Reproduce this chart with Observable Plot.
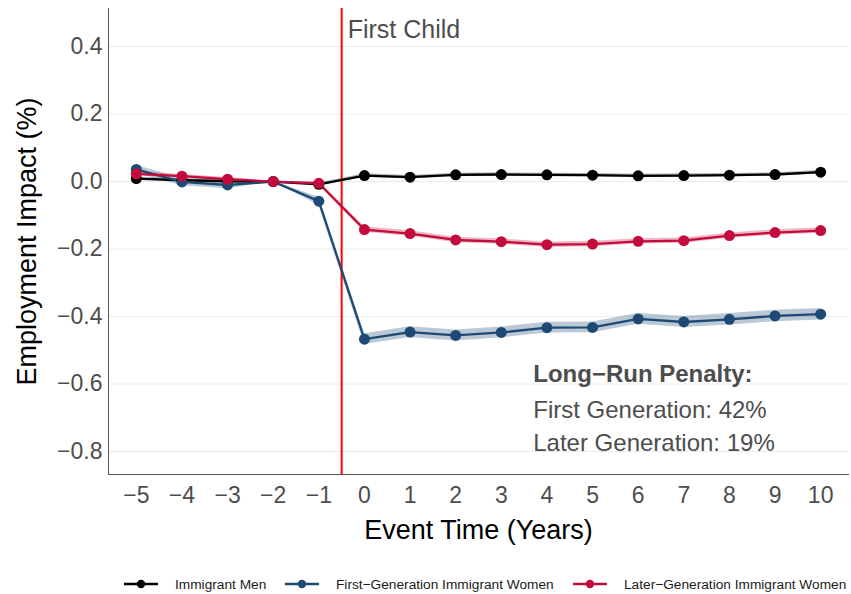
<!DOCTYPE html>
<html>
<head>
<meta charset="utf-8">
<script src="https://cdn.jsdelivr.net/npm/d3@7"></script>
<script src="https://cdn.jsdelivr.net/npm/@observablehq/plot@0.6"></script>
<style>
  body { margin: 0; background: #fff; font-family: "Liberation Sans", Arial, sans-serif; }
  #chart { width: 851px; height: 565px; }
  .legend { position: relative; height: 29px; width: 851px; font-size: 13.7px; color: #1a1a1a; }
  .legend .item { position: absolute; top: 0; display: flex; align-items: center; height: 38px; }
  .legend svg { margin-right: 15px; }
</style>
</head>
<body>
<div id="chart"></div>
<div class="legend" id="legend"></div>
<script>
const eventTime = [-5, -4, -3, -2, -1, 0, 1, 2, 3, 4, 5, 6, 7, 8, 9, 10];
const seriesNames = ["Immigrant Men", "First\u2212Generation Immigrant Women", "Later\u2212Generation Immigrant Women"];
const menValues = [0.009, 0.004, 0.001, 0, -0.008, 0.018, 0.013, 0.020, 0.021, 0.020, 0.019, 0.017, 0.018, 0.019, 0.021, 0.028];
const firstGenValues = [0.036, -0.001, -0.010, 0, -0.058, -0.467, -0.446, -0.456, -0.447, -0.433, -0.432, -0.407, -0.416, -0.408, -0.398, -0.393];
const laterGenValues = [0.023, 0.016, 0.007, 0, -0.005, -0.142, -0.154, -0.173, -0.178, -0.187, -0.185, -0.177, -0.175, -0.160, -0.151, -0.145];
const menCI = [0.004, 0.004, 0.004, 0, 0.004, 0.005, 0.005, 0.005, 0.005, 0.005, 0.005, 0.005, 0.005, 0.005, 0.005, 0.005];
const firstGenCI = [0.012, 0.011, 0.011, 0, 0.012, 0.016, 0.016, 0.016, 0.016, 0.016, 0.016, 0.016, 0.016, 0.017, 0.017, 0.017];
const laterGenCI = [0.006, 0.005, 0.005, 0, 0.005, 0.008, 0.008, 0.008, 0.008, 0.008, 0.008, 0.008, 0.008, 0.008, 0.008, 0.008];
const seriesColors = ["#000000", "#1d4a74", "#c40c3c"];
const yTicks = [-0.8, -0.6, -0.4, -0.2, 0.0, 0.2, 0.4];
const xTicks = eventTime;
const eventLine = [-0.5];
const childLabel = ["First Child"];
const annotationTitle = ["Long\u2212Run Penalty:"];
const annotationTitleY = -0.572;
const annotationLines = ["First Generation: 42%", "Later Generation: 19%"];
const annotationY = [-0.679, -0.776];
const annotationX = 3.7;

const allValues = [menValues, firstGenValues, laterGenValues];
const allCI = [menCI, firstGenCI, laterGenCI];
const rows = [];
seriesNames.forEach((s, i) => {
  eventTime.forEach((t, j) => {
    rows.push({series: s, t, v: allValues[i][j], lo: allValues[i][j] - allCI[i][j], hi: allValues[i][j] + allCI[i][j]});
  });
});
const colorScale = {domain: seriesNames, range: seriesColors};
const annRows = annotationLines.map((txt, i) => ({txt, y: annotationY[i]}));

const plot = Plot.plot({
  width: 851,
  height: 565,
  marginLeft: 108,
  marginRight: 3,
  marginTop: 8,
  marginBottom: 91,
  style: {fontFamily: "Liberation Sans, Arial, sans-serif", background: "#fff", overflow: "visible"},
  x: {domain: [-5.61, 10.61]},
  y: {domain: [-0.868, 0.513]},
  color: colorScale,
  marks: [
    Plot.gridY(yTicks, {stroke: "#ebebeb", strokeOpacity: 1, strokeWidth: 1}),
    Plot.axisY(yTicks, {tickSize: 0, tickPadding: 6, tickFormat: d3.format(".1f"), fontSize: 23, fill: "#4d4d4d", label: null}),
    Plot.axisX(xTicks, {tickSize: 0, tickPadding: 12, fontSize: 23, fill: "#4d4d4d", label: null}),
    Plot.areaY(rows, {x: "t", y1: "lo", y2: "hi", z: "series", fill: "series", fillOpacity: 0.3}),
    Plot.ruleX(eventLine, {stroke: "#ff0000", strokeWidth: 2}),
    Plot.lineY(rows, {x: "t", y: "v", z: "series", stroke: "series", strokeWidth: 2.3}),
    Plot.dot(rows, {x: "t", y: "v", fill: "series", r: 5.5}),
    Plot.text(childLabel, {x: eventLine[0], y: 0.45, dx: 6, text: d => d, textAnchor: "start", fontSize: 25, fill: "#4d4d4d"}),
    Plot.text(annotationTitle, {x: annotationX, y: annotationTitleY, text: d => d, textAnchor: "start", fontSize: 24, fontWeight: "bold", fill: "#4d4d4d"}),
    Plot.text(annRows, {x: annotationX, y: "y", text: "txt", textAnchor: "start", fontSize: 24, fill: "#4d4d4d"}),
    Plot.frame({anchor: "left", stroke: "#555", strokeWidth: 1}),
    Plot.frame({anchor: "bottom", stroke: "#555", strokeWidth: 1}),
    Plot.text(["Employment Impact (%)"], {frameAnchor: "left", dx: -81, rotate: -90, textAnchor: "middle", lineAnchor: "middle", text: d => d, fontSize: 27, fill: "#000"}),
    Plot.text(["Event Time (Years)"], {frameAnchor: "bottom", dy: 56, textAnchor: "middle", lineAnchor: "middle", text: d => d, fontSize: 27, fill: "#000"})
  ]
});
document.getElementById("chart").appendChild(plot);

const legendPos = [122, 283, 571];
const leg = document.getElementById("legend");
seriesNames.forEach((s, i) => {
  const item = document.createElement("div");
  item.className = "item";
  item.style.left = legendPos[i] + "px";
  item.innerHTML = `<svg width="38" height="12"><line x1="2" x2="36" y1="6" y2="6" stroke="${seriesColors[i]}" stroke-width="2.5"/><circle cx="19" cy="6" r="4.2" fill="${seriesColors[i]}"/></svg><span>${s}</span>`;
  leg.appendChild(item);
});
</script>
</body>
</html>
